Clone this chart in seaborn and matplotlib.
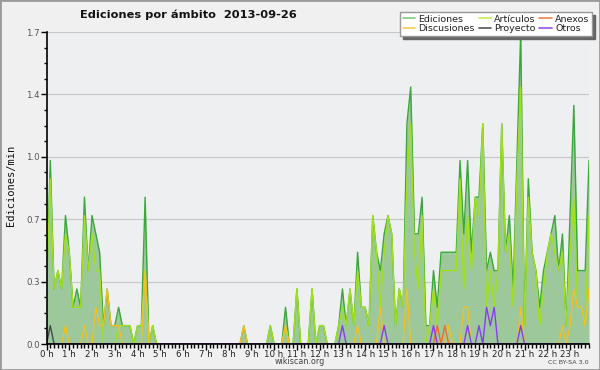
import numpy as np
import pandas as pd
import matplotlib
matplotlib.use("Agg")
import matplotlib.pyplot as plt
from matplotlib.lines import Line2D
from matplotlib.patches import Rectangle
import seaborn as sns

# ---- data: edits per 10-minute bin, one row per hour (6 bins) ----
ediciones_h = [
    [3, 10, 3, 4, 3, 7], [5, 2, 3, 2, 8, 4], [7, 6, 5, 1, 3, 1], [1, 2, 1, 1, 1, 0],
    [1, 1, 8, 0, 1, 0], [0, 0, 0, 0, 0, 0], [0, 0, 0, 0, 0, 0], [0, 0, 0, 0, 0, 0],
    [0, 0, 0, 0, 1, 0], [0, 0, 0, 0, 0, 1], [0, 0, 0, 2, 0, 0], [3, 0, 0, 0, 3, 0],
    [1, 1, 0, 0, 0, 1], [3, 1, 3, 1, 5, 2], [2, 1, 7, 5, 4, 6], [7, 6, 1, 3, 2, 12],
    [14, 6, 6, 8, 1, 1], [4, 2, 5, 5, 5, 5], [5, 10, 6, 10, 5, 8], [8, 12, 4, 5, 4, 4],
    [12, 5, 7, 3, 10, 17], [1, 9, 5, 4, 2, 4], [5, 6, 7, 4, 6, 1], [7, 13, 4, 4, 4, 10],
]
articulos_h = [
    [3, 9, 3, 4, 3, 6], [5, 2, 2, 2, 7, 4], [6, 4, 4, 0, 0, 0], [0, 1, 1, 1, 1, 0],
    [1, 1, 4, 0, 1, 0], [0, 0, 0, 0, 0, 0], [0, 0, 0, 0, 0, 0], [0, 0, 0, 0, 0, 0],
    [0, 0, 0, 0, 0, 0], [0, 0, 0, 0, 0, 1], [0, 0, 0, 1, 0, 0], [3, 0, 0, 0, 3, 0],
    [1, 1, 0, 0, 0, 1], [2, 1, 3, 1, 4, 2], [2, 1, 7, 5, 2, 5], [7, 6, 1, 3, 2, 9],
    [12, 5, 3, 7, 0, 1], [3, 1, 4, 4, 4, 4], [4, 9, 3, 7, 4, 8], [7, 12, 2, 4, 2, 4],
    [12, 5, 6, 2, 9, 14], [1, 8, 5, 4, 1, 3], [5, 6, 5, 4, 5, 1], [5, 8, 2, 2, 1, 7],
]
discusiones_h = [
    [0, 0, 0, 0, 0, 1], [0, 0, 0, 0, 1, 0], [0, 2, 1, 1, 3, 1], [1, 1, 0, 0, 0, 0],
    [0, 0, 4, 0, 0, 0], [0, 0, 0, 0, 0, 0], [0, 0, 0, 0, 0, 0], [0, 0, 0, 0, 0, 0],
    [0, 0, 0, 0, 1, 0], [0, 0, 0, 0, 0, 0], [0, 0, 0, 1, 0, 0], [0, 0, 0, 0, 0, 0],
    [0, 0, 0, 0, 0, 0], [0, 0, 0, 0, 1, 0], [0, 0, 0, 0, 2, 0], [0, 0, 0, 0, 0, 3],
    [0, 0, 0, 0, 0, 0], [0, 0, 0, 0, 1, 0], [0, 0, 2, 2, 0, 0], [0, 0, 0, 0, 0, 0],
    [0, 0, 0, 0, 0, 2], [0, 0, 0, 0, 0, 0], [0, 0, 0, 0, 1, 0], [1, 3, 2, 2, 1, 3],
]
anexos_h = [[0] * 6 for _ in range(17)] + [[0, 1, 0, 1, 0, 0]] + [[0] * 6 for _ in range(6)]
proyecto_h = [[0, 1, 0, 0, 0, 0]] + [[0] * 6 for _ in range(23)]
otros_h = (
    [[0] * 6 for _ in range(13)]
    + [[1, 0, 0, 0, 0, 0], [0, 0, 0, 0, 0, 1], [0] * 6, [0] * 6,
       [1, 0, 0, 0, 0, 0], [0, 0, 0, 1, 0, 0], [1, 0, 2, 1, 2, 0], [0, 0, 0, 0, 0, 1]]
    + [[0] * 6 for _ in range(3)]
)

series_names = ["Ediciones", "Artículos", "Discusiones", "Anexos", "Proyecto", "Otros"]
series_data = [ediciones_h, articulos_h, discusiones_h, anexos_h, proyecto_h, otros_h]
line_colors = {"Ediciones": "#3aa83a", "Artículos": "#a2e01c", "Discusiones": "#f2c022",
               "Anexos": "#f06a2a", "Proyecto": "#4a4a4a", "Otros": "#8a3cf0"}
legend_colors = {"Ediciones": "#7ccf7c", "Artículos": "#c8ee50", "Discusiones": "#f6d050",
                 "Anexos": "#f08050", "Proyecto": "#555555", "Otros": "#9a50f0"}
hour_labels = [f"{h} h" for h in range(24)]
ytick_vals = [0.0, 0.34, 0.68, 1.02, 1.36, 1.7]
ytick_labels = ["0.0", "0.3", "0.7", "1.0", "1.4", "1.7"]

# ---- long table (rate per minute) ----
rows = []
for name, rows_h in zip(series_names, series_data):
    flat = [v for r in rows_h for v in r]
    for i, v in enumerate(flat):
        rows.append({"hora": i * 10 / 60.0, "valor": v / 10.0, "serie": name})
df = pd.DataFrame(rows)

sns.set_style("ticks")
plt.rcParams["font.family"] = ["DejaVu Sans"]

W, H = 600, 370
fig = plt.figure(figsize=(6, 3.7), dpi=100)
fig.patch.set_facecolor("#f0f0f0")
x0, x1, ytop, ybot = 46.5, 589, 32, 344
ax = fig.add_axes([x0 / W, (H - ybot) / H, (x1 - x0) / W, (ybot - ytop) / H])
ax.set_facecolor("#eeeff1")

ed = df[df.serie == "Ediciones"]
ax.fill_between(ed["hora"], 0, ed["valor"], color="#9cc89c", alpha=1.0, zorder=1, linewidth=0)

sns.lineplot(data=df, x="hora", y="valor", hue="serie", hue_order=series_names,
             palette=line_colors, linewidth=1.0, legend=False, ax=ax, zorder=3)

ax.set_xlim(0, 143 / 6)
ax.set_ylim(0, 1.7)
ax.set_xticks(range(24))
ax.set_xticklabels(hour_labels, fontsize=6.2, color="#222222")
ax.set_xticks(np.arange(0, 143 / 6 + 0.001, 1 / 6), minor=True)
ax.set_yticks(ytick_vals)
ax.set_yticklabels(ytick_labels, fontsize=6.2, color="#555555")
ax.set_yticks(np.arange(0, 1.7001, 0.085), minor=True)
ax.tick_params(axis="x", which="major", length=4, width=1, pad=0, color="black")
ax.tick_params(axis="x", which="minor", length=3, width=1, color="black")
ax.tick_params(axis="y", which="major", length=4, width=1, pad=1, color="black")
ax.tick_params(axis="y", which="minor", length=2.5, width=1, color="black")
ax.yaxis.grid(True, which="major", color="#c8c8c8", linewidth=0.9, zorder=0)
ax.set_axisbelow(True)
ax.set_xlabel("")
ax.set_ylabel("")
for s in ["top", "right"]:
    ax.spines[s].set_visible(False)
for s in ["left", "bottom"]:
    ax.spines[s].set_color("black")
    ax.spines[s].set_linewidth(1.2)
    ax.spines[s].set_zorder(5)

fig.text(188 / W, 1 - 15 / H, "Ediciones por ámbito  2013-09-26", ha="center", va="center",
         fontsize=8.2, fontweight="bold", color="#111111")
fig.text(11 / W, 1 - 185 / H, "Ediciones/min", rotation=90, ha="center", va="center",
         fontsize=7.5, family="DejaVu Sans Mono", color="#111111")
fig.text(300 / W, 1 - 362 / H, "wikiscan.org", ha="center", va="center", fontsize=5.8,
         color="#444444")
fig.text(589 / W, 1 - 362 / H, "CC BY-SA 3.0", ha="right", va="center", fontsize=4.6,
         color="#444444")

order = ["Ediciones", "Discusiones", "Artículos", "Proyecto", "Anexos", "Otros"]
handles = [Line2D([0], [0], color=legend_colors[n], lw=1.2) for n in order]
leg = fig.legend(handles, order, ncol=3, loc="upper right",
                 bbox_to_anchor=(597 / W, 1 - 7 / H), bbox_transform=fig.transFigure,
                 fontsize=6.8, handlelength=1.3, handletextpad=0.35, columnspacing=0.4,
                 labelspacing=0.05, borderpad=0.3, fancybox=False, framealpha=1,
                 edgecolor="#999999", facecolor="white",
                 shadow={"color": "#666666", "alpha": 1})
for t in leg.get_texts():
    t.set_color("#222222")

fig.add_artist(Rectangle((0, 0), 1, 1, transform=fig.transFigure, fill=False,
                         edgecolor="#9a9a9a", linewidth=2))

fig.savefig("out.png", dpi=100, facecolor=fig.get_facecolor())
